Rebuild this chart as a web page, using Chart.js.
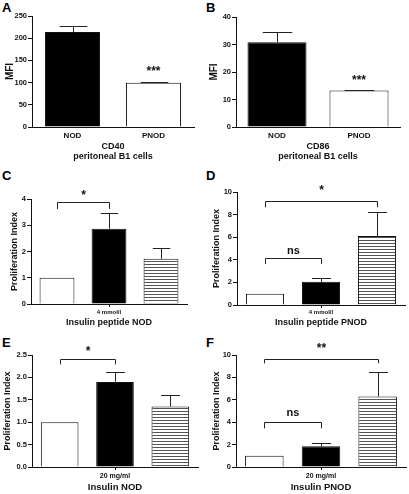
<!DOCTYPE html>
<html>
<head>
<meta charset="utf-8">
<script src="https://cdn.jsdelivr.net/npm/chart.js@4.4.1/dist/chart.umd.min.js"></script>
<style>
  body { margin: 0; background: #fff; }
  #fig { position: relative; width: 409px; height: 494px; overflow: hidden; }
  #fig canvas { position: absolute; }
  .tag { position: absolute; font: bold 13px "Liberation Sans", Arial, sans-serif; line-height: 13px; color: #000; }
</style>
</head>
<body>
<div id="fig">
  <div class="tag" style="left:2px;top:1px">A</div>
  <div class="tag" style="left:206px;top:1px">B</div>
  <div class="tag" style="left:2px;top:169px">C</div>
  <div class="tag" style="left:206px;top:169px">D</div>
  <div class="tag" style="left:2px;top:336px">E</div>
  <div class="tag" style="left:206px;top:336px">F</div>
</div>
<script>
// A, B: MFI of peritoneal B1 cells
const strains = ['NOD', 'PNOD'];
const cd40Mfi = [214, 99.5];
const cd40Sem = [13, 2.5];
const cd86Mfi = [30.8, 13.3];
const cd86Sem = [3.8, 0.3];
const cd40Ticks = [0, 50, 100, 150, 200, 250];
const cd86Ticks = [0, 10, 20, 30, 40];
const cd40Marks = [{ bar: 1, level: 132, text: '***' }];
const cd86Marks = [{ bar: 1, level: 18.1, text: '***' }];

// C-F: proliferation index (medium, stimulus, third condition)
const peptideDose = ['', '4 mmol/l', ''];
const insulinDose = ['', '20 mg/ml', ''];
const peptideNodIndex = [1, 2.87, 1.72];
const peptideNodSem = [0, 0.58, 0.41];
const peptidePnodIndex = [1, 2.05, 6.1];
const peptidePnodSem = [0, 0.37, 2.12];
const insulinNodIndex = [1, 1.9, 1.35];
const insulinNodSem = [0, 0.21, 0.25];
const insulinPnodIndex = [1, 1.85, 6.3];
const insulinPnodSem = [0, 0.3, 2.15];
const peptideNodTicks = [0, 1, 2, 3, 4];
const pnodTicks = [0, 2, 4, 6, 8, 10];
const insulinNodTicks = [0, 0.5, 1, 1.5, 2, 2.5];

// significance brackets, in data units
const peptideNodBrackets = [{ from: 0, to: 1, level: 3.89, drop: 3.62, text: '*', textLevel: 4.27 }];
const peptidePnodBrackets = [
  { from: 0, to: 2, level: 9.23, drop: 8.65, text: '*', textLevel: 10.47 },
  { from: 0, to: 1, level: 4.16, drop: 3.63, text: 'ns', textLevel: 4.78 }
];
const insulinNodBrackets = [{ from: 0, to: 1, level: 2.42, drop: 2.29, text: '*', textLevel: 2.65 }];
const insulinPnodBrackets = [
  { from: 0, to: 2, level: 9.62, drop: 9.26, text: '**', textLevel: 10.9 },
  { from: 0, to: 1, level: 4.05, drop: 3.45, text: 'ns', textLevel: 4.8 }
];

const FONT = '"Liberation Sans", Arial, sans-serif';
const INK = '#111';
const bold = (size, lh) => ({ family: FONT, size: size, weight: 'bold', lineHeight: lh || 1.2 });

// horizontal hatch for the third bar
function hatch() {
  const c = document.createElement('canvas');
  c.width = 4; c.height = 3;
  const g = c.getContext('2d');
  g.fillStyle = '#fff'; g.fillRect(0, 0, 4, 3);
  g.fillStyle = '#555'; g.fillRect(0, 0, 4, 1);
  return g.createPattern(c, 'repeat');
}
const stripes = hatch();

function label(ctx, text, x, y) {
  const ns = text === 'ns';
  const size = ns ? 11 : 12;
  ctx.font = 'bold ' + size + 'px ' + FONT;
  ctx.fillStyle = INK;
  ctx.textAlign = 'center';
  ctx.textBaseline = 'alphabetic';
  ctx.fillText(text, x, y + (ns ? 0.27 : 0.57) * size);
}

const extras = {
  id: 'extras',
  afterDatasetsDraw(chart) {
    const { ctx } = chart;
    const x = chart.scales.x, y = chart.scales.y;
    const ds = chart.data.datasets[0];
    const meta = chart.getDatasetMeta(0);
    ctx.save();
    ctx.strokeStyle = '#222';
    ctx.lineWidth = 1;
    ds.sem.forEach((e, i) => {
      if (!e) return;
      const bar = meta.data[i];
      const cx = Math.round(bar.x) + 0.5;
      const top = Math.round(y.getPixelForValue(ds.data[i] + e)) + 0.5;
      const half = bar.width / 4;
      ctx.beginPath();
      ctx.moveTo(cx, bar.y);
      ctx.lineTo(cx, top);
      ctx.moveTo(cx - half, top);
      ctx.lineTo(cx + half, top);
      ctx.stroke();
    });
    (ds.brackets || []).forEach(b => {
      const x1 = Math.round(x.getPixelForValue(b.from)) + 0.5;
      const x2 = Math.round(x.getPixelForValue(b.to)) + 0.5;
      const yl = Math.round(y.getPixelForValue(b.level)) + 0.5;
      const yd = y.getPixelForValue(b.drop);
      ctx.beginPath();
      ctx.moveTo(x1, yd);
      ctx.lineTo(x1, yl);
      ctx.lineTo(x2, yl);
      ctx.lineTo(x2, yd);
      ctx.stroke();
      label(ctx, b.text, (x1 + x2) / 2, y.getPixelForValue(b.textLevel));
    });
    (ds.marks || []).forEach(m => label(ctx, m.text, meta.data[m.bar].x, y.getPixelForValue(m.level)));
    ctx.restore();
  }
};

function panel(p) {
  const cv = document.createElement('canvas');
  cv.width = p.w; cv.height = p.h;
  cv.style.left = p.x + 'px';
  cv.style.top = p.y + 'px';
  document.getElementById('fig').appendChild(cv);
  const midTick = p.midTick;
  return new Chart(cv, {
    type: 'bar',
    data: {
      labels: p.labels,
      datasets: [{
        data: p.values,
        sem: p.sem,
        brackets: p.brackets,
        marks: p.marks,
        backgroundColor: p.fills,
        borderColor: '#111',
        borderWidth: 1,
        barPercentage: p.bar,
        categoryPercentage: 1
      }]
    },
    options: {
      responsive: false,
      animation: false,
      layout: { padding: { top: p.top, right: p.right, left: 0, bottom: 0 } },
      plugins: { legend: { display: false }, tooltip: { enabled: false } },
      scales: {
        x: {
          grid: {
            display: midTick,
            drawTicks: midTick,
            drawOnChartArea: false,
            offset: false,
            tickLength: 3,
            color: c => c.index === 1 ? '#111' : 'rgba(0,0,0,0)'
          },
          border: { color: '#111', width: 1 },
          ticks: { font: bold(p.tickSize), color: INK, padding: p.tickPad, maxRotation: 0, autoSkip: false },
          title: { display: true, text: p.xTitle, font: bold(p.titleSize, p.titleLh), color: INK, padding: { top: 0, bottom: p.titlePad } },
          afterFit: s => { s.height = p.xh; }
        },
        y: {
          min: p.ticks[0],
          max: p.ticks[p.ticks.length - 1],
          afterBuildTicks: s => { s.ticks = p.ticks.map(v => ({ value: v })); },
          grid: { drawOnChartArea: false, tickLength: 4, color: '#111' },
          border: { color: '#111', width: 1 },
          ticks: {
            font: bold(7.5),
            color: INK,
            padding: 1,
            callback: v => p.decimals ? v.toFixed(1) : v
          },
          title: { display: true, text: p.yTitle, font: bold(p.yTitleSize), color: INK, padding: { top: p.yTitlePad, bottom: 0 } },
          afterFit: s => { s.width = p.yw; }
        }
      }
    },
    plugins: [extras]
  });
}

const twoFills = ['#000', '#fff'];
const threeFills = ['#fff', '#000', stripes];

panel({ x: 0, y: 0, w: 205, h: 162, top: 16, right: 11, yw: 32, xh: 35,
  labels: strains, values: cd40Mfi, sem: cd40Sem, marks: cd40Marks, fills: twoFills, bar: 0.68,
  ticks: cd40Ticks, yTitle: 'MFI', yTitleSize: 10, yTitlePad: 4, midTick: false, tickSize: 8, tickPad: 4,
  xTitle: ['CD40', 'peritoneal B1 cells'], titleSize: 9, titleLh: 1.1, titlePad: 1 });

panel({ x: 205, y: 0, w: 204, h: 162, top: 17, right: 9, yw: 31, xh: 35,
  labels: strains, values: cd86Mfi, sem: cd86Sem, marks: cd86Marks, fills: twoFills, bar: 0.72,
  ticks: cd86Ticks, yTitle: 'MFI', yTitleSize: 10, yTitlePad: 3, midTick: false, tickSize: 8, tickPad: 4,
  xTitle: ['CD86', 'peritoneal B1 cells'], titleSize: 9, titleLh: 1.1, titlePad: 1 });

panel({ x: 0, y: 162, w: 205, h: 168, top: 37, right: 18, yw: 31, xh: 26,
  labels: peptideDose, values: peptideNodIndex, sem: peptideNodSem, brackets: peptideNodBrackets, fills: threeFills, bar: 0.67,
  ticks: peptideNodTicks, yTitle: 'Proliferation Index', yTitleSize: 9, yTitlePad: 9.6, midTick: true, tickSize: 6, tickPad: 2,
  xTitle: 'Insulin peptide NOD', titleSize: 9, titlePad: 2 });

panel({ x: 205, y: 162, w: 204, h: 168, top: 30, right: 4, yw: 32, xh: 25,
  labels: peptideDose, values: peptidePnodIndex, sem: peptidePnodSem, brackets: peptidePnodBrackets, fills: threeFills, bar: 0.68,
  ticks: pnodTicks, yTitle: 'Proliferation Index', yTitleSize: 9, yTitlePad: 6.6, midTick: true, tickSize: 6, tickPad: 1,
  xTitle: 'Insulin peptide PNOD', titleSize: 9, titlePad: 2 });

panel({ x: 0, y: 330, w: 205, h: 164, top: 25, right: 7, yw: 32, xh: 27,
  labels: insulinDose, values: insulinNodIndex, sem: insulinNodSem, brackets: insulinNodBrackets, fills: threeFills, bar: 0.68,
  ticks: insulinNodTicks, decimals: true, yTitle: 'Proliferation Index', yTitleSize: 9, yTitlePad: 2.6, midTick: true, tickSize: 7, tickPad: 2,
  xTitle: 'Insulin NOD', titleSize: 9.5, titlePad: 1.3 });

panel({ x: 205, y: 330, w: 204, h: 164, top: 25, right: 3, yw: 31, xh: 27,
  labels: insulinDose, values: insulinPnodIndex, sem: insulinPnodSem, brackets: insulinPnodBrackets, fills: threeFills, bar: 0.68,
  ticks: pnodTicks, yTitle: 'Proliferation Index', yTitleSize: 9, yTitlePad: 6.6, midTick: true, tickSize: 7, tickPad: 2,
  xTitle: 'Insulin PNOD', titleSize: 9.5, titlePad: 1.3 });
</script>
</body>
</html>
